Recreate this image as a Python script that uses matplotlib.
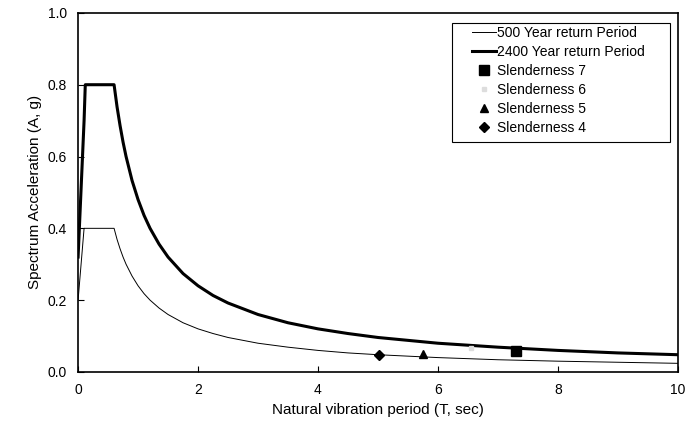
import matplotlib
matplotlib.use('Agg')
import matplotlib.pyplot as plt
from matplotlib.patches import Rectangle

# ---- data ----
period = [0, 0.1, 0.12, 0.6, 0.65, 0.7, 0.75, 0.8, 0.9, 1.0, 1.1, 1.2, 1.35, 1.5, 1.75,
          2.0, 2.25, 2.5, 3.0, 3.5, 4.0, 4.5, 5.0, 6.0, 7.0, 8.0, 9.0, 10.0]
sa_500 = [0.20, 0.40, 0.40, 0.40, 0.369, 0.343, 0.32, 0.30, 0.267, 0.24, 0.218, 0.20, 0.178,
          0.16, 0.137, 0.12, 0.107, 0.096, 0.08, 0.069, 0.06, 0.053, 0.048, 0.04, 0.034,
          0.03, 0.027, 0.024]
sa_2400 = [0.32, 0.70, 0.80, 0.80, 0.738, 0.686, 0.64, 0.60, 0.533, 0.48, 0.436, 0.40, 0.356,
           0.32, 0.274, 0.24, 0.213, 0.192, 0.16, 0.137, 0.12, 0.107, 0.096, 0.08, 0.069,
           0.06, 0.053, 0.048]

slender_labels = ['Slenderness 7', 'Slenderness 6', 'Slenderness 5', 'Slenderness 4']
slender_T = [7.3, 6.55, 5.75, 5.02]
slender_A = [0.058, 0.068, 0.050, 0.048]

plt.rcParams['font.family'] = ['Liberation Sans', 'DejaVu Sans']

fig = plt.figure(figsize=(6.91, 4.30), dpi=100)
ax = fig.add_axes([0.113, 0.135, 0.868, 0.835])

ax.plot(period, sa_500, color='black', lw=0.7, label='500 Year return Period')
ax.plot(period, sa_2400, color='black', lw=2.2, label='2400 Year return Period')

styles = [('s', 'black', 7), ('s', '#dddddd', 3), ('^', 'black', 6), ('D', 'black', 5)]
for lab, t, a, (m, c, s) in zip(slender_labels, slender_T, slender_A, styles):
    ax.plot([t], [a], linestyle='none', marker=m, color=c, markersize=s, label=lab)

ax.set_xlim(0, 10)
ax.set_ylim(0, 1.0)
ax.set_xticks([0, 2, 4, 6, 8, 10])
ax.set_yticks([0, 0.2, 0.4, 0.6, 0.8, 1.0])
ax.set_yticklabels(['0.0', '0.2', '0.4', '0.6', '0.8', '1.0'])
ax.tick_params(direction='in', length=4, width=0.8, labelsize=10, pad=8)
for sp in ax.spines.values():
    sp.set_linewidth(1.2)

ax.set_xlabel('Natural vibration period (T, sec)', fontsize=11)
ax.set_ylabel('Spectrum Acceleration (A, g)', fontsize=11)

# legend entries without frame, box drawn separately (wider padding like the original)
leg = ax.legend(loc='upper left', bbox_to_anchor=(0.657, 0.963), fontsize=10,
                frameon=False, handlelength=1.75, handletextpad=0.05,
                labelspacing=0.36, borderpad=0, borderaxespad=0)
ax.add_patch(Rectangle((0.623, 0.641), 0.364, 0.331, transform=ax.transAxes,
                       fill=False, edgecolor='black', lw=0.8, zorder=5))

plt.savefig('out.png', dpi=100)
